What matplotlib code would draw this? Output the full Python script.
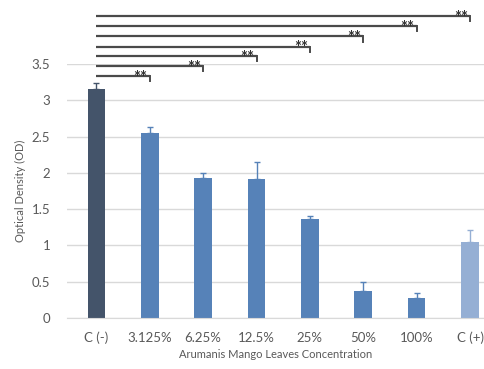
import matplotlib.pyplot as plt
import numpy as np

categories = ["C (-)", "3.125%", "6.25%", "12.5%", "25%", "50%", "100%", "C (+)"]
od_values = [3.15, 2.55, 1.93, 1.91, 1.36, 0.37, 0.27, 1.05]
od_errors = [0.09, 0.08, 0.07, 0.24, 0.04, 0.13, 0.08, 0.16]
bar_colors = ["#44546A", "#5682B8", "#5682B8", "#5682B8", "#5682B8", "#5682B8", "#5682B8", "#95AFD4"]
y_ticks = [0, 0.5, 1, 1.5, 2, 2.5, 3, 3.5]
y_tick_labels = ["0", "0.5", "1", "1.5", "2", "2.5", "3", "3.5"]
# Significance comparisons against C (-): (target index, bracket height)
sig_targets = [1, 2, 3, 4, 5, 6, 7]
sig_heights = [3.33, 3.47, 3.61, 3.74, 3.88, 4.02, 4.16]
sig_label = "**"

plt.rcParams['font.family'] = ['Lato', 'DejaVu Sans']

fig = plt.figure(figsize=(4.85, 3.69), dpi=100)
ax = fig.add_axes([67 / 485, 51 / 369, 1 - 67 / 485, 254 / 369])

x = np.arange(len(categories))
ax.bar(x, od_values, width=0.33, color=bar_colors, zorder=2)
for xi, v, e, c in zip(x, od_values, od_errors, bar_colors):
    ax.errorbar(xi, v, yerr=[[0], [e]], fmt="none", ecolor=c, elinewidth=1,
                capsize=2, capthick=1, zorder=3)

ax.set_xlim(-0.55, 7.28)
ax.set_ylim(0, 3.5)
ax.set_yticks(y_ticks)
ax.set_yticklabels(y_tick_labels)
ax.set_xticks(x)
ax.set_xticklabels(categories)
ax.yaxis.grid(True, color="#D9D9D9", linewidth=1, zorder=0)
ax.set_axisbelow(True)
for s in ["top", "right", "left"]:
    ax.spines[s].set_visible(False)
ax.spines["bottom"].set_color("#D9D9D9")
ax.tick_params(axis="both", length=0, colors="#595959", labelsize=9.5)
ax.tick_params(axis="y", pad=12)
ax.tick_params(axis="x", pad=10)

ax.set_ylabel("Optical Density (OD)", fontsize=8, color="#595959", labelpad=4)
ax.set_xlabel("Arumanis Mango Leaves Concentration", fontsize=8, color="#595959", labelpad=3)

# significance brackets
for t, h in zip(sig_targets, sig_heights):
    ax.plot([0, t], [h, h], color="#4A4A4A", linewidth=1.6, clip_on=False,
            solid_capstyle="butt", zorder=4)
    ax.plot([t, t], [h, h - 0.07], color="#4A4A4A", linewidth=1.4, clip_on=False, zorder=4)
    ax.text(t - 0.17, h - 0.09, sig_label, ha="center", va="baseline", fontsize=12,
            fontweight="bold", color="#2E2E2E", clip_on=False, zorder=5)

fig.savefig("out.png", dpi=100)
